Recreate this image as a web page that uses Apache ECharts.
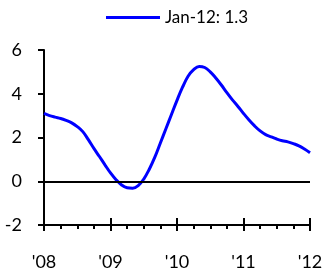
<!DOCTYPE html>
<html>
<head>
<meta charset="utf-8">
<script src="https://cdn.jsdelivr.net/npm/echarts@6/dist/echarts.min.js"></script>
<style>
  html, body { margin: 0; padding: 0; background: #fff; }
  #chart { width: 333px; height: 275px; }
</style>
</head>
<body>
<div id="chart"></div>
<script>
// monthly values, Jan-08 .. Jan-12
const months = [];
for (let i = 0; i <= 48; i++) months.push(i);
const values = [
  3.1, 3.0, 2.93, 2.87, 2.78, 2.67, 2.5, 2.27, 1.9, 1.5, 1.13, 0.75,
  0.38, 0.07, -0.17, -0.3, -0.32, -0.2, 0.1, 0.55, 1.1, 1.75, 2.4, 3.05,
  3.7, 4.3, 4.8, 5.1, 5.25, 5.2, 5.0, 4.72, 4.4, 4.05, 3.72, 3.42,
  3.1, 2.8, 2.53, 2.3, 2.13, 2.03, 1.93, 1.85, 1.8, 1.72, 1.62, 1.47,
  1.3
];
const yearLabels = ["'08", "'09", "'10", "'11", "'12"];
const seriesName = 'Jan-12: 1.3';

const font = 'Lato';
const chart = echarts.init(document.getElementById('chart'));

const option = {
  animation: false,
  legend: {
    show: true,
    left: 101,
    top: 4,
    itemWidth: 54,
    itemHeight: 3,
    itemGap: 0,
    icon: 'rect',
    textStyle: { fontFamily: font, fontSize: 17, color: '#000' },
    data: [seriesName]
  },
  grid: { left: 44, right: 23, top: 50, bottom: 50 },
  xAxis: [
    {
      type: 'value',
      min: 0,
      max: 48,
      interval: 12,
      axisLine: { onZero: false, lineStyle: { color: '#000', width: 2 } },
      axisTick: { show: true, length: 6, lineStyle: { color: '#000', width: 2 } },
      minorTick: { show: true, splitNumber: 4, length: 4, lineStyle: { color: '#000', width: 2 } },
      splitLine: { show: false },
      axisLabel: {
        margin: 28,
        fontFamily: font,
        fontSize: 18,
        color: '#000',
        formatter: (v) => yearLabels[v / 12]
      }
    },
    {
      type: 'value',
      min: 0,
      max: 48,
      interval: 12,
      position: 'bottom',
      axisLine: { show: false, onZero: false },
      axisTick: { show: true, inside: true, length: 7, lineStyle: { color: '#000', width: 2 } },
      splitLine: { show: false },
      axisLabel: { show: false }
    }
  ],
  yAxis: {
    type: 'value',
    min: -2,
    max: 6,
    interval: 2,
    axisLine: { show: true, lineStyle: { color: '#000', width: 2 } },
    axisTick: { show: true, length: 6, lineStyle: { color: '#000', width: 2 } },
    splitLine: { show: false },
    axisLabel: { margin: 22, fontFamily: font, fontSize: 18, color: '#000' }
  },
  series: [
    {
      name: seriesName,
      type: 'line',
      smooth: 0.4,
      symbol: 'none',
      data: months.map((m, i) => [m, values[i]]),
      lineStyle: { color: '#0000ff', width: 3 },
      itemStyle: { color: '#0000ff' },
      markLine: {
        silent: true,
        symbol: 'none',
        label: { show: false },
        lineStyle: { color: '#000', width: 2, type: 'solid' },
        data: [{ yAxis: 0 }]
      },
      z: 3
    }
  ]
};

chart.setOption(option);
</script>
</body>
</html>
